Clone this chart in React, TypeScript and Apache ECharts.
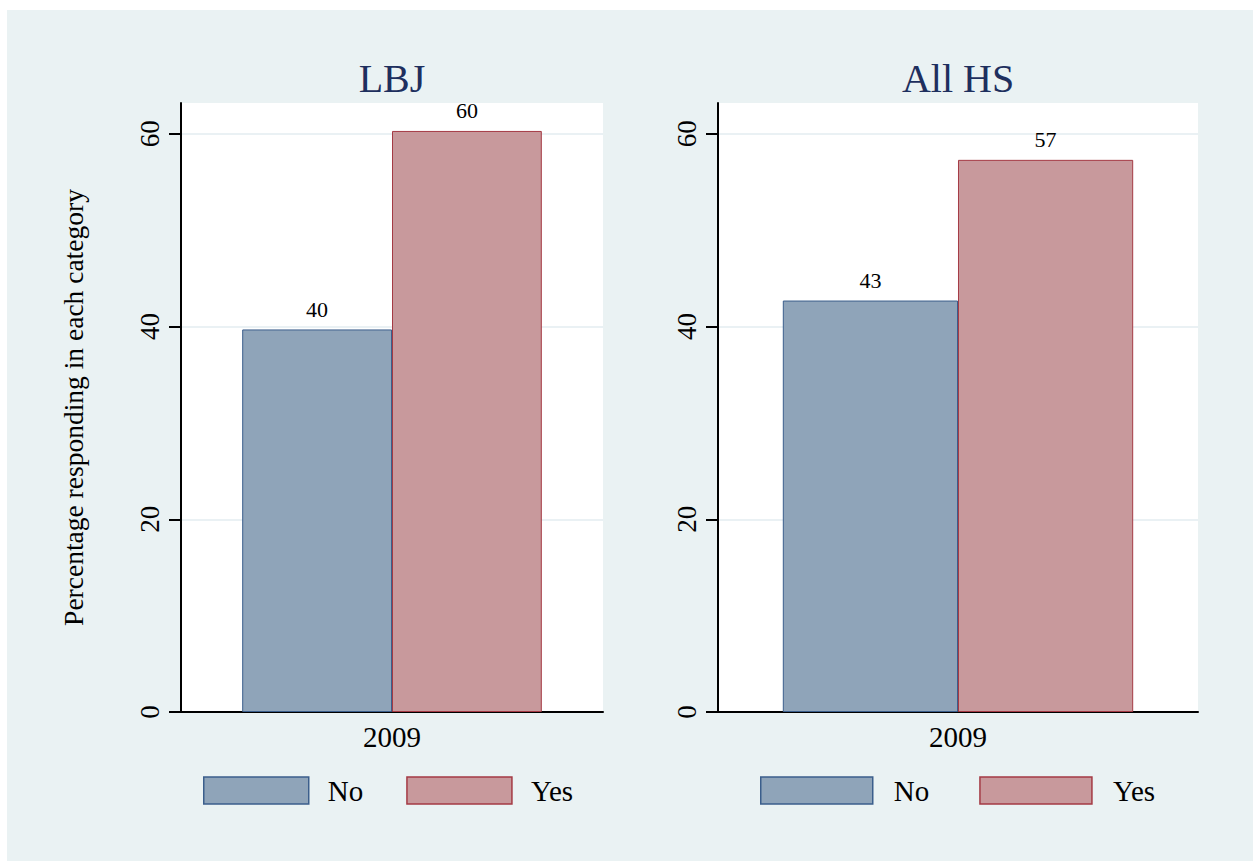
import React, { useEffect, useRef } from "react";
import * as echarts from "echarts";

const categories = ["2009"];
const seriesNames = ["No", "Yes"];
const panelTitles = ["LBJ", "All HS"];
const lbjValues = [39.7, 60.3];
const allHsValues = [42.7, 57.3];
const yTicks = [0, 20, 40, 60];
const yMax = 63.2;
const yAxisTitle = "Percentage responding in each category";

const FONT = '"Liberation Serif", "DejaVu Serif", serif';
const BG = "#eaf2f3";
const fills = ["#8fa4b9", "#c8999c"];
const borders = ["#3b5e8c", "#a43a44"];

export default function App() {
  const ref = useRef<HTMLDivElement>(null);

  useEffect(() => {
    if (!ref.current) return;
    const chart = echarts.init(ref.current, undefined, { renderer: "svg" });

    const grids = [
      { left: 174, top: 93, width: 422, height: 609 },
      { left: 711, top: 93, width: 480, height: 609 },
    ];
    const panelValues = [lbjValues, allHsValues];
    const gaps = ["29%", "27%"];

    const xAxis = grids.map((_, i) => ({
      type: "category",
      gridIndex: i,
      data: categories,
      axisLine: { show: true, lineStyle: { color: "#000", width: 2 } },
      axisTick: { show: false },
      axisLabel: { fontSize: 29, color: "#000", fontFamily: FONT, margin: 10 },
    }));

    const yAxis = grids.map((_, i) => ({
      type: "value",
      gridIndex: i,
      min: 0,
      max: yMax,
      interval: 20,
      name: i === 0 ? yAxisTitle : "",
      nameLocation: "middle",
      nameGap: 94,
      nameTextStyle: { fontSize: 27.5, color: "#000", fontFamily: FONT },
      axisLine: { show: true, lineStyle: { color: "#000", width: 2 } },
      axisTick: {
        show: true,
        length: 12,
        customValues: yTicks,
        lineStyle: { color: "#000", width: 2 },
      },
      axisLabel: {
        rotate: 90,
        fontSize: 27,
        color: "#000",
        fontFamily: FONT,
        margin: 18,
        customValues: yTicks,
      },
      splitLine: { show: true, lineStyle: { color: "#e3edf0", width: 1.5 } },
    }));

    const series: any[] = [];
    panelValues.forEach((vals, p) => {
      seriesNames.forEach((name, s) => {
        series.push({
          type: "bar",
          name,
          xAxisIndex: p,
          yAxisIndex: p,
          data: [vals[s]],
          barGap: "0%",
          barCategoryGap: gaps[p],
          itemStyle: { color: fills[s], borderColor: borders[s], borderWidth: 1 },
          label: {
            show: true,
            position: "top",
            distance: 9,
            fontSize: 22,
            color: "#000",
            fontFamily: FONT,
            formatter: (prm: any) => String(Math.round(prm.value)),
          },
        });
      });
    });

    const legendCfg = [
      { left: 196, itemWidth: 105, itemGap: 43, pad: 14 },
      { left: 753, itemWidth: 112, itemGap: 50, pad: 16 },
    ];

    chart.setOption({
      animation: false,
      backgroundColor: BG,
      title: panelTitles.map((t, i) => ({
        text: t,
        left: grids[i].left + grids[i].width / 2,
        textAlign: "center",
        top: 48,
        padding: 0,
        textStyle: { fontSize: 40, fontWeight: "normal", color: "#1e2f5e", fontFamily: FONT },
      })),
      grid: grids.map((g) => ({
        ...g,
        show: true,
        backgroundColor: "#ffffff",
        borderWidth: 0,
      })),
      legend: legendCfg.map((l) => ({
        left: l.left,
        top: 766,
        padding: 0,
        orient: "horizontal",
        itemWidth: l.itemWidth,
        itemHeight: 27,
        itemGap: l.itemGap,
        selectedMode: false,
        icon: "rect",
        data: seriesNames.map((n, s) => ({
          name: n,
          itemStyle: { color: fills[s], borderColor: borders[s], borderWidth: 1.5 },
        })),
        textStyle: {
          fontSize: 29,
          color: "#000",
          fontFamily: FONT,
          padding: [0, 0, 0, l.pad],
        },
      })),
      xAxis,
      yAxis,
      series,
    });

    return () => chart.dispose();
  }, []);

  return (
    <div
      ref={ref}
      style={{ position: "fixed", left: 7, top: 10, width: 1246, height: 851 }}
    />
  );
}
